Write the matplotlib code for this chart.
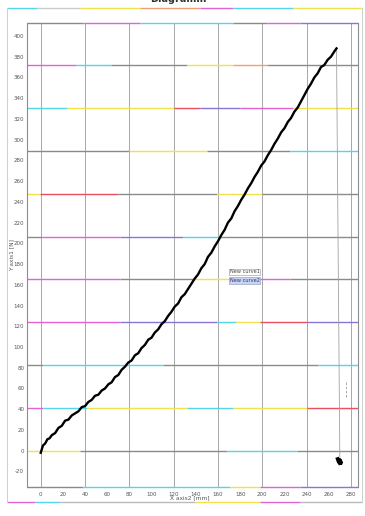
import matplotlib.pyplot as plt
from matplotlib.lines import Line2D

plt.rcParams["axes.unicode_minus"] = False

# measured curve (X axis2 [mm], Y axis1 [N])
curve_x = [0, 2, 4, 6, 8, 10, 13, 16, 19, 22, 25, 28, 31, 34, 37, 40, 43, 46,
           49, 52, 55, 58, 61, 64, 67, 70, 73, 76, 79, 82, 85, 88, 91, 94, 97,
           100, 103, 106, 109, 112, 115, 118, 121, 124, 127, 130, 133, 136, 139,
           142, 145, 148, 151, 154, 157, 160, 163, 166, 169, 172, 175, 178, 181,
           184, 187, 190, 193, 196, 199, 202, 205, 208, 211, 214, 217, 220, 223,
           226, 229, 232, 235, 238, 241, 244, 247, 250, 253, 256, 259, 262, 265,
           267]
curve_y = [-2, 5, 7, 11, 12, 15, 17, 22, 24, 29, 30, 34, 36, 38, 42, 43, 47, 49,
           53, 54, 58, 60, 64, 66, 71, 73, 78, 81, 85, 87, 92, 94, 99, 102, 107,
           109, 114, 117, 122, 125, 130, 134, 139, 142, 148, 151, 156, 161, 166,
           170, 176, 180, 187, 191, 197, 202, 208, 213, 220, 224, 231, 236, 242,
           247, 253, 258, 264, 269, 275, 279, 285, 290, 296, 301, 307, 311, 317,
           321, 327, 331, 337, 343, 349, 354, 360, 364, 370, 372, 377, 380, 385,
           388]

# drop after break and the points left at the end
drop_x = [267, 270]
drop_y = [388, -8]
end_x = [268, 269, 270, 271, 270.5, 269, 270]
end_y = [-8, -11, -9, -12, -10, -9, -12]

x_ticks = list(range(0, 281, 20))
y_ticks = list(range(-20, 401, 20))
x_grid = list(range(0, 281, 40))
y_grid = [0, 41.3, 82.6, 123.9, 165.2, 206.5, 247.8, 289.1, 330.4, 371.7]

legend_labels = ["New curve1", "New curve2"]

XMIN, XMAX = -12.4, 286.4
YMIN, YMAX = -35, 412.5

G = "#8a8a8a"
M = "#e062d6"
C = "#55d6e6"
Y = "#f0e24a"
R = "#e65060"
P = "#8a74d6"
O = "#f0a070"

# colour runs along each horizontal line: (breakpoints in x, colours)
h_runs = {
    YMAX: ([XMIN, 38, 90, 174, 204, 234, XMAX], [G, M, C, G, M, P]),
    371.7: ([XMIN, 32, 63, 132, 174, 204, XMAX], [M, C, G, Y, O, G]),
    330.4: ([XMIN, 24, 120, 144, 180, 228, XMAX], [C, Y, R, P, M, Y]),
    289.1: ([XMIN, 80, 150, 225, XMAX], [G, Y, G, C]),
    247.8: ([XMIN, -0.6, 70, 159, 200, XMAX], [Y, R, G, Y, G]),
    206.5: ([XMIN, 1.5, 71.5, 128, 162, XMAX], [G, M, P, C, G]),
    165.2: ([XMIN, 71.5, 137, 170.8, 198, 225, XMAX], [M, G, Y, G, M, G]),
    123.9: ([XMIN, 71.5, 159, 176, 198, 240, XMAX], [M, P, C, Y, R, P]),
    82.6: ([XMIN, 2, 110, 250, XMAX], [G, C, G, C]),
    41.3: ([XMIN, 2, 42, 132, 174, 240, XMAX], [M, C, Y, C, Y, R]),
    0: ([XMIN, 35.5, 168, 231, XMAX], [Y, G, C, G]),
    YMIN: ([XMIN, 38, 171, 198, 234, XMAX], [G, C, Y, M, P]),
}

W, H = 365, 516
fig = plt.figure(figsize=(W / 100, H / 100), dpi=100)
ax = fig.add_axes([27 / W, 1 - 487 / H, (358 - 27) / W, (487 - 23) / H])
ax.set_xlim(XMIN, XMAX)
ax.set_ylim(YMIN, YMAX)
for s in ["top", "bottom"]:
    ax.spines[s].set_visible(False)
for s in ["left", "right"]:
    ax.spines[s].set_color("#8c8c8c")
    ax.spines[s].set_linewidth(0.8)

for xg in x_grid:
    ax.axvline(xg, color="#a8a8a8", lw=0.7, zorder=1)

for yv in [YMAX] + y_grid + [YMIN]:
    breaks, cols = h_runs[yv]
    for x0, x1, c in zip(breaks[:-1], breaks[1:], cols):
        ax.plot([x0, x1], [yv, yv], color=c, lw=1.0, solid_capstyle="butt",
                clip_on=False, zorder=2)

ax.plot(curve_x, curve_y, color="black", lw=1.7, zorder=5)
ax.plot(drop_x, drop_y, color="#a0a0a0", lw=0.6, zorder=4)
ax.plot(end_x, end_y, color="black", lw=2.6, zorder=5)
ax.plot([275.5, 275.5], [52, 68], color="#9a9a9a", lw=0.6, ls=(0, (3, 2)), zorder=4)

ax.set_xticks(x_ticks)
ax.set_yticks(y_ticks)
ax.tick_params(length=0, labelsize=4, colors="#555555")
ax.tick_params(axis="x", pad=3.5)
ax.tick_params(axis="y", pad=2)

# legend entries
ax.text(170.5, 172.5, legend_labels[0], fontsize=3.6, color="#444444",
        ha="left", va="center", zorder=6,
        bbox=dict(boxstyle="square,pad=0.15", fc="white", ec="#9aa6c8", lw=0.5))
ax.text(170.5, 164, legend_labels[1], fontsize=3.6, color="#333366",
        ha="left", va="center", zorder=6,
        bbox=dict(boxstyle="square,pad=0.15", fc="#c8d4f4", ec="#9aa6c8", lw=0.5))

fig.text(190 / W, 1 - 498 / H, "X axis2 [mm]", fontsize=4.2, color="#555555",
         ha="center", va="center")
fig.text(12 / W, 1 - 255 / H, "Y axis1 [N]", fontsize=4.2, color="#555555",
         ha="center", va="center", rotation=90)
fig.text(178 / W, 1 + 1 / H, "Diagramm", fontsize=7, fontweight="bold",
         color="#333333", ha="center", va="center")

# outer frame
def frame_run(yp, breaks, cols):
    for x0, x1, c in zip(breaks[:-1], breaks[1:], cols):
        fig.add_artist(Line2D([x0 / W, x1 / W], [1 - yp / H, 1 - yp / H],
                              color=c, lw=1.0, solid_capstyle="butt"))

frame_run(7.5, [7, 37, 80, 140, 200, 233, 293, 362], [C, "#cccccc", Y, O, M, C, Y])
frame_run(501.5, [7, 35, 60, 195, 260, 300, 362], [M, C, "#bbbbbb", Y, M, "#bbbbbb"])
for xp in [7.3, 361.7]:
    fig.add_artist(Line2D([xp / W, xp / W], [1 - 7.5 / H, 1 - 501.5 / H],
                          color="#cfcfcf", lw=0.7))

fig.savefig("out.png", dpi=100)
